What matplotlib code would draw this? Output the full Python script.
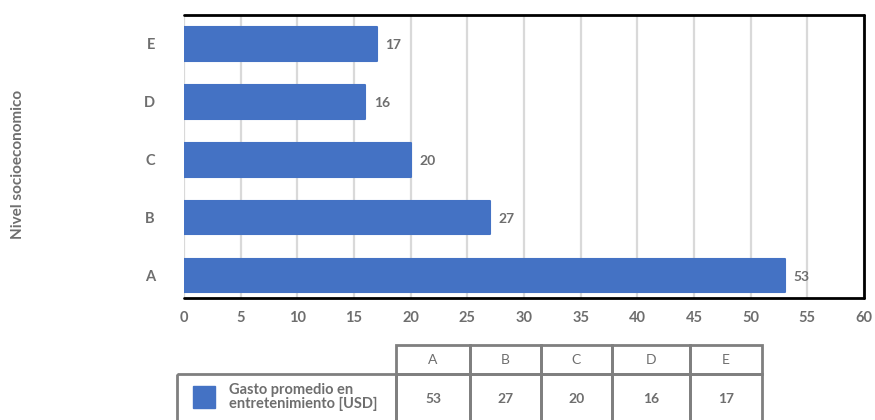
import matplotlib
matplotlib.use("Agg")
import matplotlib.pyplot as plt
from matplotlib.patches import Rectangle

# data
niveles = ["A", "B", "C", "D", "E"]
gasto = [53, 27, 20, 16, 17]
serie = "Gasto promedio en\nentretenimiento [USD]"
xticks = list(range(0, 61, 5))

BLUE = "#4472C4"
GRAY = "#6e6e6e"
GRID = "#d9d9d9"
BORDER = "#7f7f7f"

plt.rcParams["font.family"] = ["Lato", "DejaVu Sans"]

W, H = 875, 420
fig = plt.figure(figsize=(W / 100, H / 100), dpi=100)

# main bar chart
ax = fig.add_axes([184 / W, 1 - 298 / H, 680 / W, 283 / H])
ypos = list(range(len(niveles)))
ax.barh(ypos, gasto, height=0.57, color=BLUE, edgecolor=BLUE,
        linewidth=1.5, joinstyle="round", zorder=3)
for y, v in zip(ypos, gasto):
    ax.annotate(str(v), (v, y), xytext=(6, -1), textcoords="offset points",
                va="center", ha="left", fontsize=10, color=GRAY,
                fontweight="bold")

ax.set_xlim(0, 60)
ax.set_ylim(-0.38, 4.5)
ax.set_xticks(xticks)
ax.set_yticks(ypos)
ax.set_yticklabels(niveles)
ax.grid(axis="x", color=GRID, linewidth=1.6, zorder=0)
ax.tick_params(length=0, labelsize=10.5, labelcolor=GRAY)
ax.tick_params(axis="x", pad=9)
ax.tick_params(axis="y", pad=21)
for lab in ax.get_xticklabels() + ax.get_yticklabels():
    lab.set_fontweight("bold")
ax.spines["left"].set_visible(False)
for s in ("top", "right", "bottom"):
    ax.spines[s].set_linewidth(2)
    ax.spines[s].set_color("black")
    ax.spines[s].set_capstyle("round")

fig.text(18 / W, 1 - 164 / H, "Nivel socioeconomico", rotation=90,
         ha="center", va="center", fontsize=11, color=GRAY,
         fontweight="bold")

# data table under the chart
tab = fig.add_axes([170 / W, 0, 600 / W, 80 / H])
tab.set_xlim(170, 770)
tab.set_ylim(420, 340)
tab.axis("off")

col_edges = [396, 470, 541, 612, 690, 762]
head_top, head_bot, row_bot = 345, 374, 425
kw = dict(fill=False, edgecolor=BORDER, linewidth=2, clip_on=False)
for i, nv in enumerate(niveles):
    x0, x1 = col_edges[i], col_edges[i + 1]
    tab.add_patch(Rectangle((x0, head_top), x1 - x0, head_bot - head_top, **kw))
    tab.add_patch(Rectangle((x0, head_bot), x1 - x0, row_bot - head_bot, **kw))
    tab.text((x0 + x1) / 2, (head_top + head_bot) / 2 + 1, nv, ha="center",
             va="center", fontsize=10, color=GRAY)
    tab.text((x0 + x1) / 2, 399, str(gasto[i]), ha="center", va="center",
             fontsize=10, color=GRAY, fontweight="bold")
tab.add_patch(Rectangle((177, head_bot), col_edges[0] - 177,
                        row_bot - head_bot, **kw))
tab.add_patch(Rectangle((193, 386), 22, 22, color=BLUE))
tab.text(229, 397, serie, ha="left", va="center", fontsize=10.5,
         color=GRAY, fontweight="bold", linespacing=1.0)

fig.savefig("out.png", dpi=100)
